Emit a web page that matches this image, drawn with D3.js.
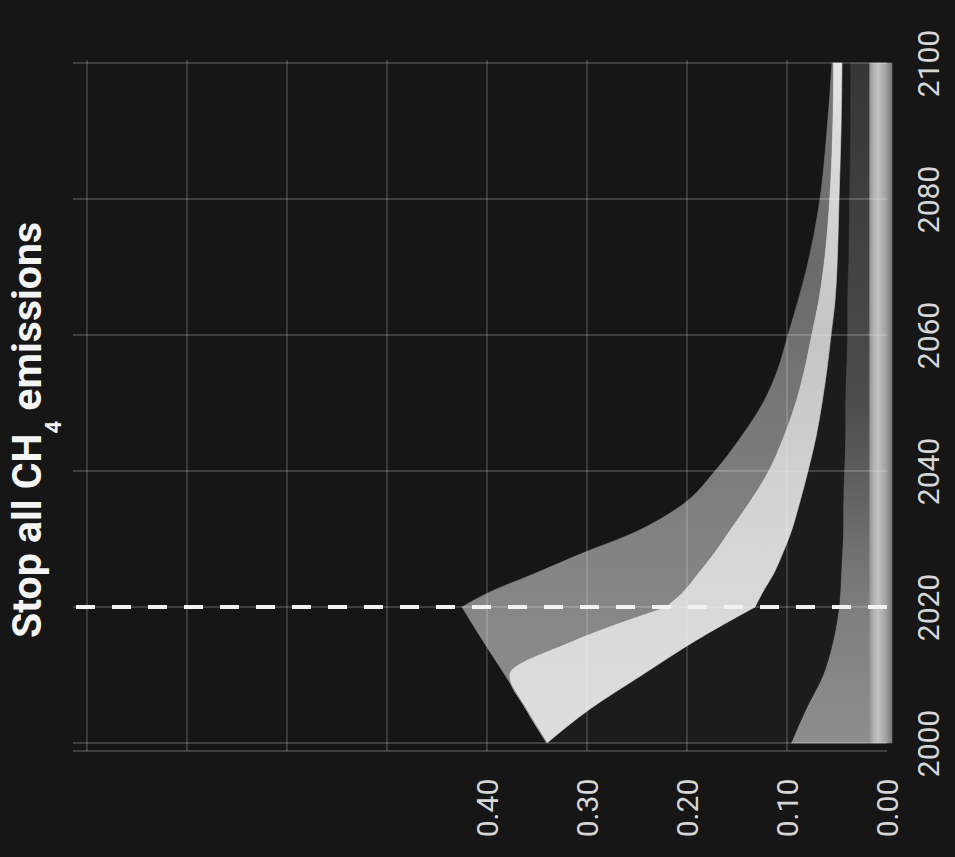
<!DOCTYPE html>
<html><head><meta charset="utf-8">
<script src="https://cdn.jsdelivr.net/npm/d3@7"></script>
<style>html,body{margin:0;padding:0;background:#161616;} svg{display:block;}</style>
</head><body>
<svg id="chart" width="955" height="857"></svg>
<script>
// ---- data (chart is drawn rotated: years run bottom->top, values run right->left)
const years        = [2000,2005,2010,2015,2020,2022,2025,2028,2031,2035,2040,2045,2050,2055,2060,2065,2070,2080,2090,2100];
const totalTop     = [0.340,0.361,0.382,0.404,0.425,0.400,0.351,0.303,0.252,0.205,0.172,0.146,0.124,0.109,0.099,0.089,0.080,0.067,0.060,0.055];
const brightTop    = [0.340,0.361,0.378,0.315,0.222,0.206,0.189,0.173,0.159,0.140,0.119,0.104,0.092,0.083,0.076,0.069,0.064,0.058,0.055,0.054];
const darkTop      = [0.340,0.297,0.245,0.192,0.132,0.125,0.113,0.104,0.096,0.088,0.079,0.071,0.065,0.060,0.056,0.052,0.050,0.048,0.046,0.045];
const mediumTop    = [0.096,0.081,0.064,0.054,0.048,0.047,0.046,0.045,0.044,0.044,0.043,0.042,0.042,0.041,0.040,0.040,0.039,0.038,0.037,0.037];
const baseTop      = [0.018,0.018,0.018,0.018,0.018,0.018,0.018,0.018,0.018,0.018,0.018,0.018,0.018,0.018,0.018,0.018,0.018,0.018,0.018,0.018];
const baseBottom   = -0.005;
const valueTicks   = [0, 0.1, 0.2, 0.3, 0.4];
const gridValues   = [0.1, 0.2, 0.3, 0.4, 0.5, 0.6, 0.7, 0.8];
const yearTicks    = [2000, 2020, 2040, 2060, 2080, 2100];
const stopYear     = 2020;
const titleMain    = "Stop all CH";
const titleSub     = "4";
const titleEnd     = " emissions";

// ---- scales
const svg = d3.select("#chart");
const yearScale = d3.scaleLinear().domain([2000, 2100]).range([743, 63]);
const valScale  = d3.scaleLinear().domain([0, 0.8]).range([887, 87]);

const rows = years.map((y, i) => ({year: y, base: baseTop[i], medium: mediumTop[i], dark: darkTop[i], bright: brightTop[i], total: totalTop[i]}));

// ---- gradients
const defs = svg.append("defs");
const gA = defs.append("linearGradient").attr("id", "gA").attr("gradientUnits", "userSpaceOnUse")
  .attr("x1", valScale(baseBottom)).attr("x2", valScale(0.018)).attr("y1", 0).attr("y2", 0);
[[0, "#7a7a7a"], [0.3, "#a4a4a4"], [0.6, "#c2c2c2"], [0.8, "#b2b2b2"], [1, "#8e8e8e"]]
  .forEach(s => gA.append("stop").attr("offset", s[0]).attr("stop-color", s[1]));
const gB = defs.append("linearGradient").attr("id", "gB").attr("gradientUnits", "userSpaceOnUse")
  .attr("x1", 0).attr("x2", 0).attr("y1", yearScale(2000)).attr("y2", yearScale(2100));
[[0, "#8e8e8e"], [0.2, "#7e7e7e"], [0.5, "#4c4c4c"], [1, "#363636"]]
  .forEach(s => gB.append("stop").attr("offset", s[0]).attr("stop-color", s[1]));
const gG = defs.append("linearGradient").attr("id", "gG").attr("gradientUnits", "userSpaceOnUse")
  .attr("x1", 0).attr("x2", 0).attr("y1", yearScale(2000)).attr("y2", yearScale(2100));
[[0, "#8e8e8e"], [0.3, "#828282"], [0.7, "#6a6a6a"], [1, "#7a7a7a"]]
  .forEach(s => gG.append("stop").attr("offset", s[0]).attr("stop-color", s[1]));
const gW = defs.append("linearGradient").attr("id", "gW").attr("gradientUnits", "userSpaceOnUse")
  .attr("x1", 0).attr("x2", 0).attr("y1", yearScale(2000)).attr("y2", yearScale(2100));
[[0, "#dedede"], [0.3, "#d6d6d6"], [0.6, "#c4c4c4"], [1, "#e4e4e4"]]
  .forEach(s => gW.append("stop").attr("offset", s[0]).attr("stop-color", s[1]));

// ---- areas (split at the stop year so the peak stays sharp)
const layers = [
  {lo: d => baseBottom, hi: d => d.base,   fill: "url(#gA)"},
  {lo: d => d.base,     hi: d => d.medium, fill: "url(#gB)"},
  {lo: d => d.medium,   hi: d => d.dark,   fill: "#1c1c1c"},
  {lo: d => d.dark,     hi: d => d.bright, fill: "url(#gW)"},
  {lo: d => d.bright,   hi: d => d.total,  fill: "url(#gG)"}
];
const parts = [rows.filter(d => d.year <= stopYear), rows.filter(d => d.year >= stopYear)];
const gArea = svg.append("g");
layers.forEach(L => {
  const area = d3.area()
    .y(d => yearScale(d.year))
    .x0(d => valScale(L.lo(d)))
    .x1(d => valScale(L.hi(d)))
    .curve(d3.curveMonotoneY);
  parts.forEach(p => {
    gArea.append("path").datum(p).attr("d", area)
      .attr("fill", L.fill).attr("stroke", L.fill).attr("stroke-width", 0.6);
  });
});

// ---- grid (drawn over the bands, translucent)
const gGrid = svg.append("g").attr("stroke", "rgba(255,255,255,0.24)").attr("stroke-width", 1.3);
gGrid.selectAll("line.v").data(gridValues).join("line").attr("class", "v")
  .attr("x1", d => valScale(d)).attr("x2", d => valScale(d))
  .attr("y1", yearScale(2100) - 3).attr("y2", yearScale(2000) + 8);
gGrid.selectAll("line.h").data(yearTicks).join("line").attr("class", "h")
  .attr("y1", d => yearScale(d)).attr("y2", d => yearScale(d))
  .attr("x1", valScale(0.814)).attr("x2", valScale(0));
gGrid.append("line")
  .attr("y1", yearScale(2000) + 8).attr("y2", yearScale(2000) + 8)
  .attr("x1", valScale(0.814)).attr("x2", valScale(0));

// ---- stop line
svg.append("line")
  .attr("x1", valScale(0)).attr("x2", valScale(0.813))
  .attr("y1", yearScale(stopYear)).attr("y2", yearScale(stopYear))
  .attr("stroke", "#f2f2f2").attr("stroke-width", 4)
  .attr("stroke-dasharray", "19,17");

// ---- axes
const fontFam = "Roboto, 'Noto Sans', sans-serif";
const valAxis = svg.append("g").attr("transform", "translate(0,808)")
  .call(d3.axisBottom(valScale).tickValues(valueTicks).tickFormat(d3.format(".2f")).tickSize(0));
valAxis.select(".domain").remove();
valAxis.selectAll("text")
  .attr("transform", "rotate(-90)").attr("x", 0).attr("y", 0).attr("dy", "0.35em")
  .attr("text-anchor", "middle").attr("fill", "#d6d6d6")
  .style("font-family", fontFam).style("font-size", "30px");

const yearAxis = svg.append("g").attr("transform", "translate(928,0)")
  .call(d3.axisRight(yearScale).tickValues(yearTicks).tickFormat(d3.format("d")).tickSize(0));
yearAxis.select(".domain").remove();
yearAxis.selectAll("text")
  .attr("transform", "rotate(-90)").attr("x", 0).attr("y", 0).attr("dy", "0.35em")
  .attr("text-anchor", "middle").attr("fill", "#d6d6d6")
  .style("font-family", fontFam).style("font-size", "30px");

// ---- title
const t = svg.append("text")
  .attr("transform", "translate(41,430) rotate(-90)")
  .attr("text-anchor", "middle").attr("fill", "#f4f4f4")
  .style("font-family", fontFam).style("font-weight", "bold").style("font-size", "41px");
t.append("tspan").text(titleMain);
t.append("tspan").text(titleSub).attr("dy", 20).style("font-size", "22px");
t.append("tspan").text(titleEnd).attr("dy", -20);
</script>
</body></html>
